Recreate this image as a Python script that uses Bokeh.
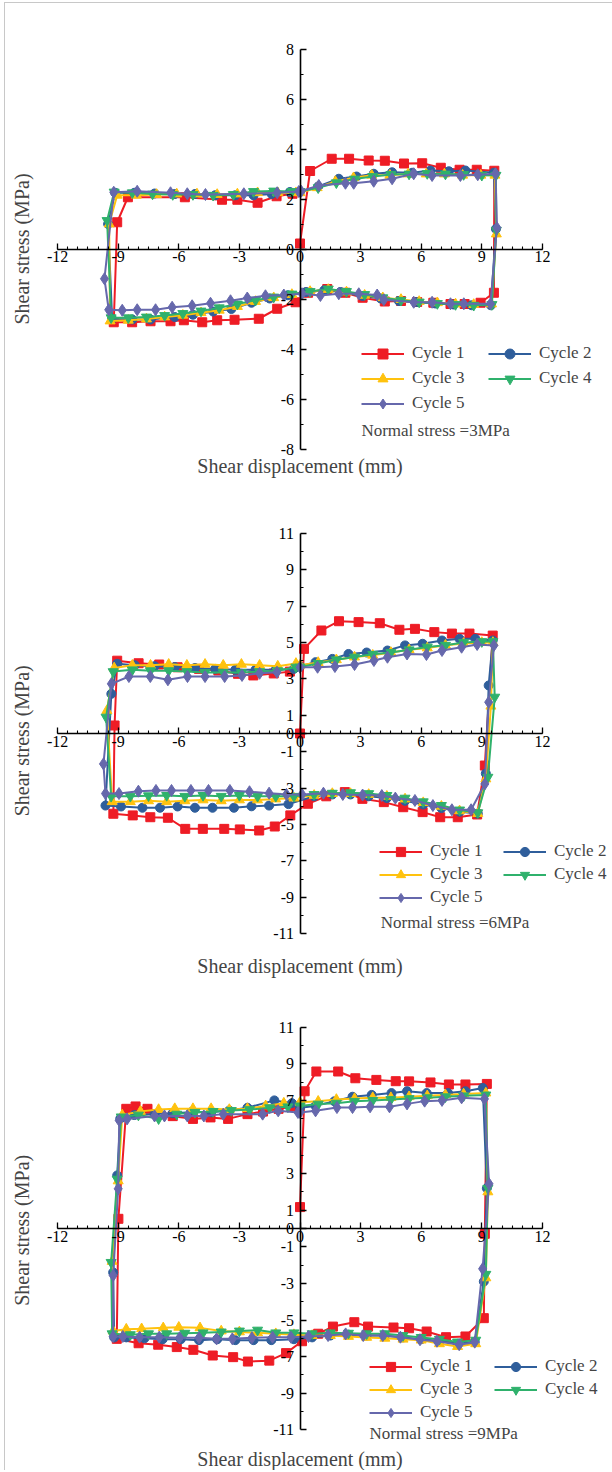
import math

from bokeh.embed import file_html
from bokeh.layouts import column
from bokeh.models import (CustomJSTickFormatter, FixedTicker, Label, Legend,
                          LegendItem, Range1d)
from bokeh.plotting import figure
from bokeh.resources import INLINE

# ---------------------------------------------------------------- data
# Shear displacement (mm) / shear stress (MPa), five loading cycles per test.

# Normal stress = 3 MPa
N3_C1_X = [0, 0.5, 1.57, 2.43, 3.4, 4.2, 5.15, 6.05, 6.97, 7.9, 8.75, 9.62,
           9.6, 8.94, 8.15, 7.45, 6.6, 5.8, 5.0, 4.2, 3.1, 2.25, 1.35, 0.4,
           -0.22, -1.13, -2.04, -3.24, -4.1, -4.84, -5.75, -6.41, -7.4, -8.31, -9.22,
           -9.05, -8.52, -5.7, -3.86, -3.1, -2.1, -1.16, -0.37]
N3_C1_Y = [0.22, 3.12, 3.61, 3.61, 3.54, 3.53, 3.42, 3.43, 3.25, 3.17, 3.17, 3.13,
           -1.75, -2.15, -2.2, -2.2, -2.15, -2.12, -2.08, -2.1, -1.95, -1.75, -1.6, -1.75,
           -2.13, -2.39, -2.79, -2.83, -2.85, -2.93, -2.85, -2.89, -2.89, -2.93, -2.93,
           1.07, 2.07, 2.07, 1.97, 1.97, 1.85, 2.11, 2.21]
N3_C2_X = [0, 0.9, 1.92, 2.8, 3.65, 4.56, 5.55, 6.46, 7.37, 8.19, 9.6,
           9.7, 9.45, 8.5, 7.6, 6.7, 5.8, 4.9, 4.0, 3.1, 2.0, 1.2, 0.3,
           -0.6, -1.5, -2.4, -3.4, -4.3, -5.3, -6.2, -7.4, -8.3, -9.3,
           -9.5, -9.15, -8.2, -7.2, -6.2, -5.2, -4.2, -3.2, -2.3, -1.4, -0.5]
N3_C2_Y = [2.3, 2.5, 2.81, 2.9, 3.01, 3.07, 3.05, 3.14, 3.11, 3.14, 3.05,
           0.8, -2.25, -2.25, -2.22, -2.18, -2.12, -2.08, -1.98, -1.88, -1.72, -1.65, -1.72,
           -1.85, -1.98, -2.15, -2.4, -2.5, -2.63, -2.72, -2.82, -2.82, -2.8,
           1.0, 2.25, 2.25, 2.22, 2.2, 2.2, 2.15, 2.15, 2.15, 2.2, 2.28]
N3_C3_X = [0, 0.85, 1.75, 2.65, 3.55, 4.45, 5.35, 6.25, 7.15, 8.05, 8.95, 9.65,
           9.72, 9.48, 8.6, 7.7, 6.8, 5.9, 5.0, 4.1, 3.2, 2.3, 1.4, 0.5,
           -0.4, -1.3, -2.2, -3.1, -4.0, -4.9, -5.8, -6.7, -7.6, -8.5, -9.4,
           -9.45, -9.05, -8.1, -7.1, -6.1, -5.1, -4.1, -3.1, -2.1, -1.1, -0.2]
N3_C3_Y = [2.25, 2.45, 2.7, 2.85, 2.95, 2.95, 3.0, 3.0, 3.0, 2.95, 2.95, 2.95,
           0.6, -2.2, -2.22, -2.2, -2.15, -2.1, -2.02, -1.95, -1.85, -1.72, -1.62, -1.7,
           -1.82, -1.95, -2.1, -2.3, -2.45, -2.55, -2.65, -2.72, -2.8, -2.85, -2.88,
           1.0, 2.15, 2.15, 2.18, 2.2, 2.2, 2.18, 2.2, 2.25, 2.25, 2.25]
N3_C4_X = [0, 0.9, 1.8, 2.7, 3.6, 4.5, 5.4, 6.3, 7.2, 8.1, 9.0, 9.7,
           9.72, 9.5, 8.6, 7.7, 6.8, 5.9, 5.0, 4.1, 3.2, 2.3, 1.4, 0.5,
           -0.4, -1.3, -2.2, -3.1, -4.0, -4.9, -5.8, -6.7, -7.6, -8.5, -9.35,
           -9.55, -9.2, -8.3, -7.3, -6.3, -5.3, -4.3, -3.3, -2.3, -1.3, -0.4]
N3_C4_Y = [2.3, 2.45, 2.65, 2.8, 2.9, 2.98, 3.0, 3.02, 3.0, 2.98, 2.95, 2.95,
           0.75, -2.22, -2.25, -2.22, -2.18, -2.12, -2.05, -1.95, -1.82, -1.7, -1.6, -1.7,
           -1.8, -1.92, -2.05, -2.2, -2.35, -2.48, -2.58, -2.66, -2.72, -2.75, -2.75,
           1.14, 2.28, 2.25, 2.2, 2.18, 2.18, 2.15, 2.18, 2.3, 2.32, 2.3]
N3_C5_X = [0.06, 0.93, 2.25, 2.66, 3.65, 4.56, 5.63, 6.54, 7.94, 8.8, 9.68,
           9.75, 9.43, 8.11, 7.45, 6.54, 5.63, 4.15, 3.82, 2.91, 1.92, 1.01, 0.1,
           -0.8, -1.71, -2.61, -3.44, -4.43, -5.34, -6.33, -7.15, -8.06, -8.8, -9.47,
           -9.68, -9.22, -8.06, -6.41, -5.58, -4.68, -2.78, -1.13, -0.06]
N3_C5_Y = [2.31, 2.54, 2.63, 2.63, 2.71, 2.81, 3.01, 2.94, 2.94, 2.97, 3.01,
           0.85, -2.19, -2.19, -2.19, -2.13, -2.13, -2.03, -1.84, -1.79, -1.79, -1.86, -1.79,
           -1.84, -1.87, -1.96, -2.07, -2.17, -2.27, -2.33, -2.43, -2.43, -2.45, -2.43,
           -1.19, 2.27, 2.31, 2.25, 2.21, 2.18, 2.21, 2.25, 2.3]

# Normal stress = 6 MPa
N6_C1_X = [0, 0.2, 1.06, 1.93, 2.9, 3.95, 4.92, 5.69, 6.65, 7.52, 8.39, 9.54,
           9.15, 8.77, 7.81, 6.94, 6.07, 5.11, 4.15, 3.09, 2.22, 1.3,
           0.39, -0.48, -1.25, -2.02, -2.98, -3.75, -4.81, -5.68, -6.54, -7.41, -8.28, -9.24,
           -9.18, -9.05, -7.99, -6.97, -6.06, -5.0, -4.04, -3.07, -2.31, -1.3, -0.5]
N6_C1_Y = [0, 4.65, 5.66, 6.17, 6.12, 6.06, 5.7, 5.75, 5.57, 5.49, 5.49, 5.38,
           -1.76, -4.45, -4.6, -4.6, -4.32, -4.05, -3.77, -3.59, -3.22, -3.45,
           -3.86, -4.5, -5.11, -5.33, -5.27, -5.24, -5.24, -5.24, -4.63, -4.6, -4.5, -4.41,
           0.44, 4.0, 3.86, 3.79, 3.64, 3.55, 3.46, 3.28, 3.19, 3.3, 3.4]
N6_C2_X = [0, 0.77, 1.6, 2.4, 3.3, 4.33, 5.2, 6.07, 7.03, 7.9, 8.68, 9.54,
           9.34, 9.2, 8.8, 7.9, 7.0, 6.1, 5.2, 4.3, 3.4, 2.5, 1.6, 0.7,
           -0.57, -1.53, -2.4, -3.27, -4.33, -5.2, -6.06, -6.93, -7.8, -8.86, -9.63,
           -9.34, -9.05, -8.18, -7.2, -6.2, -5.2, -4.2, -3.2, -2.2, -1.2, -0.3]
N6_C2_Y = [3.7, 3.92, 4.1, 4.37, 4.45, 4.56, 4.84, 4.93, 5.11, 5.2, 5.2, 5.11,
           2.64, -2.2, -4.4, -4.3, -4.1, -3.9, -3.7, -3.55, -3.45, -3.35, -3.35, -3.45,
           -3.88, -3.96, -4.0, -4.08, -4.08, -4.08, -4.01, -4.08, -4.08, -4.01, -3.96,
           2.18, 3.83, 3.75, 3.7, 3.65, 3.6, 3.55, 3.5, 3.5, 3.5, 3.55]
N6_C3_X = [0, 0.9, 1.8, 2.7, 3.6, 4.5, 5.4, 6.3, 7.2, 8.1, 9.0, 9.55,
           9.45, 9.2, 8.8, 7.9, 7.0, 6.1, 5.2, 4.3, 3.4, 2.5, 1.6, 0.7,
           -0.3, -1.2, -2.1, -3.0, -3.9, -4.8, -5.7, -6.6, -7.5, -8.4, -9.3,
           -9.56, -9.2, -8.3, -7.4, -6.5, -5.6, -4.7, -3.8, -2.9, -2.0, -1.1, -0.2]
N6_C3_Y = [3.75, 3.9, 4.05, 4.2, 4.3, 4.45, 4.6, 4.7, 4.85, 4.95, 5.0, 5.0,
           1.5, -2.5, -4.4, -4.25, -4.0, -3.8, -3.6, -3.45, -3.35, -3.3, -3.3, -3.4,
           -3.55, -3.6, -3.65, -3.65, -3.7, -3.65, -3.7, -3.75, -3.7, -3.75, -3.75,
           1.26, 3.6, 3.75, 3.75, 3.8, 3.75, 3.8, 3.75, 3.8, 3.75, 3.7, 3.85]
N6_C4_X = [0, 0.9, 1.8, 2.7, 3.6, 4.5, 5.4, 6.3, 7.2, 8.1, 9.0, 9.55,
           9.64, 9.3, 8.8, 7.9, 7.0, 6.1, 5.2, 4.3, 3.4, 2.5, 1.6, 0.7,
           -0.3, -1.2, -2.1, -3.0, -3.9, -4.8, -5.7, -6.6, -7.5, -8.4, -9.35,
           -9.6, -9.25, -8.3, -7.4, -6.5, -5.6, -4.7, -3.8, -2.9, -2.0, -1.1, -0.2]
N6_C4_Y = [3.65, 3.85, 4.05, 4.2, 4.35, 4.45, 4.6, 4.75, 4.85, 5.0, 5.05, 5.05,
           2.0, -2.4, -4.35, -4.2, -3.95, -3.75, -3.55, -3.4, -3.3, -3.25, -3.28, -3.35,
           -3.45, -3.45, -3.45, -3.4, -3.45, -3.4, -3.45, -3.4, -3.42, -3.45, -3.45,
           0.9, 3.4, 3.5, 3.45, 3.45, 3.4, 3.35, 3.35, 3.35, 3.4, 3.45, 3.65]
N6_C5_X = [0, 0.87, 1.73, 2.7, 3.66, 4.33, 5.3, 6.26, 7.03, 8.0, 8.77, 9.6,
           9.34, 9.15, 8.47, 7.52, 6.58, 5.69, 4.72, 4.05, 3.1, 2.12, 1.16, 0.1,
           -0.67, -1.53, -2.5, -3.47, -4.53, -5.4, -6.36, -7.13, -8.0, -8.96, -9.63,
           -9.73, -9.34, -8.47, -7.41, -6.54, -5.57, -4.7, -3.73, -2.87, -2.0, -1.14]
N6_C5_Y = [3.64, 3.64, 3.68, 3.79, 4.01, 4.19, 4.37, 4.34, 4.56, 4.74, 4.89, 4.84,
           1.72, -2.77, -4.19, -4.19, -3.96, -3.68, -3.55, -3.41, -3.38, -3.35, -3.28, -3.35,
           -3.35, -3.28, -3.2, -3.13, -3.13, -3.13, -3.13, -3.13, -3.17, -3.3, -3.3,
           -1.67, 2.73, 3.13, 3.13, 2.95, 3.13, 3.13, 3.13, 3.19, 3.31, 3.37]

# Normal stress = 9 MPa
N9_C1_X = [0, 0.23, 0.81, 1.89, 2.74, 3.78, 4.74, 5.4, 6.46, 7.37, 8.19, 9.25,
           9.15, 9.1, 8.19, 7.23, 6.27, 5.4, 4.63, 3.37, 2.69, 1.63, 0.9, 0.1,
           -0.69, -1.52, -2.58, -3.31, -4.32, -5.28, -6.1, -7.02, -7.99, -9.07,
           -8.99, -8.6, -8.14, -7.55, -6.3, -5.3, -4.43, -3.56, -2.6, -1.83, -1.06, -0.29]
N9_C1_Y = [1.17, 7.5, 8.58, 8.58, 8.21, 8.12, 8.05, 8.04, 7.98, 7.87, 7.87, 7.9,
           -0.29, -4.9, -5.9, -5.94, -5.63, -5.45, -5.41, -5.36, -5.12, -5.36, -5.75, -6.16,
           -6.81, -7.22, -7.27, -7.03, -6.94, -6.63, -6.48, -6.35, -6.27, -6.03,
           0.53, 6.54, 6.67, 6.54, 6.14, 5.99, 6.07, 5.99, 6.25, 6.39, 6.54, 6.67]
N9_C2_X = [0, 0.77, 1.7, 2.6, 3.55, 4.53, 5.3, 6.27, 7.33, 8.19, 9.05,
           9.25, 9.1, 8.65, 7.8, 6.9, 6.0, 5.1, 4.2, 3.3, 2.4, 1.5, 0.6,
           -0.3, -1.42, -2.3, -3.2, -4.1, -5.0, -5.9, -6.8, -7.7, -8.6, -9.2,
           -9.25, -9.05, -8.9, -8.2, -7.2, -6.3, -5.4, -4.4, -3.5, -2.6, -1.27, -0.4]
N9_C2_Y = [6.6, 6.7, 6.95, 7.2, 7.3, 7.4, 7.5, 7.4, 7.4, 7.5, 7.68,
           2.2, -2.9, -6.2, -6.3, -6.15, -6.05, -5.95, -5.85, -5.85, -5.8, -5.85, -5.95,
           -6.05, -6.1, -6.1, -6.1, -6.05, -6.1, -6.05, -6.05, -6.0, -5.95, -5.95,
           -2.4, 2.9, 6.0, 6.2, 6.25, 6.3, 6.35, 6.35, 6.45, 6.6, 7.0, 6.85]
N9_C3_X = [0, 0.9, 1.8, 2.7, 3.6, 4.5, 5.4, 6.3, 7.2, 8.1, 9.2,
           9.3, 9.2, 8.7, 7.8, 6.9, 6.0, 5.1, 4.2, 3.3, 2.4, 1.5, 0.6,
           -0.3, -1.2, -2.1, -3.0, -3.9, -4.95, -6.0, -6.77, -7.84, -8.6, -9.25,
           -9.3, -9.0, -8.8, -7.9, -7.0, -6.2, -5.3, -4.4, -3.5, -2.6, -1.7, -0.8]
N9_C3_Y = [6.9, 6.95, 7.05, 7.1, 7.15, 7.15, 7.2, 7.25, 7.3, 7.35, 7.4,
           2.0, -2.7, -6.3, -6.45, -6.3, -6.1, -6.05, -6.0, -5.95, -5.9, -5.85, -5.85,
           -5.8, -5.75, -5.7, -5.65, -5.6, -5.43, -5.4, -5.43, -5.48, -5.5, -5.6,
           -1.8, 2.6, 6.2, 6.4, 6.5, 6.55, 6.55, 6.55, 6.5, 6.55, 6.7, 6.85]
N9_C4_X = [0, 0.9, 1.8, 2.7, 3.6, 4.5, 5.4, 6.3, 7.2, 8.1, 9.2,
           9.3, 9.2, 8.7, 7.8, 6.9, 6.0, 5.1, 4.2, 3.3, 2.4, 1.5, 0.6,
           -0.3, -1.2, -2.1, -3.0, -3.9, -4.8, -5.7, -6.6, -7.5, -8.4, -9.3,
           -9.35, -9.05, -8.85, -8.0, -7.0, -6.1, -5.2, -4.3, -3.4, -2.5, -1.5, -0.6]
N9_C4_Y = [6.7, 6.8, 6.85, 6.95, 7.0, 7.05, 7.1, 7.15, 7.2, 7.25, 7.3,
           2.2, -2.5, -6.1, -6.2, -6.05, -5.95, -5.85, -5.75, -5.75, -5.72, -5.7, -5.75,
           -5.7, -5.7, -5.55, -5.6, -5.65, -5.7, -5.72, -5.75, -5.75, -5.8, -5.75,
           -1.85, 2.7, 6.1, 6.2, 6.0, 6.25, 6.35, 6.4, 6.45, 6.5, 6.6, 6.65]
N9_C5_X = [0, 0.77, 1.83, 2.6, 3.47, 4.43, 5.3, 6.17, 7.03, 8.0, 9.13,
           9.36, 9.04, 8.65, 7.88, 6.78, 5.94, 4.97, 4.1, 3.13, 2.26, 1.39, 0.42,
           -0.45, -1.36, -2.38, -3.35, -4.13, -5.0, -5.96, -6.97, -7.94, -8.77, -9.25,
           -9.25, -9.0, -8.95, -8.56, -7.2, -6.71, -5.58, -4.76, -3.8, -1.85, -1.08, -0.1]
N9_C5_Y = [6.34, 6.43, 6.61, 6.61, 6.65, 6.65, 6.81, 6.96, 7.0, 7.14, 7.08,
           2.44, -2.2, -6.21, -6.35, -6.16, -6.08, -5.94, -5.85, -5.85, -5.76, -5.85, -5.9,
           -5.94, -5.94, -5.97, -6.03, -6.03, -5.97, -5.97, -5.94, -5.94, -5.9, -5.9,
           -2.57, 2.17, 5.9, 5.99, 6.15, 6.15, 6.15, 6.15, 6.25, 6.25, 6.43, 6.34]

CYCLE_LABELS = ["Cycle 1", "Cycle 2", "Cycle 3", "Cycle 4", "Cycle 5"]
X_TICKS = [-12, -9, -6, -3, 0, 3, 6, 9, 12]
Y_TICKS_3 = [-8, -6, -4, -2, 0, 2, 4, 6, 8]
Y_TICKS_6 = [-11, -9, -7, -5, -3, -1, 0, 1, 3, 5, 7, 9, 11]
Y_TICKS_9 = [-11, -9, -7, -5, -3, -1, 0, 1, 3, 5, 7, 9, 11]
NOTES = ["Normal stress =3MPa", "Normal stress =6MPa", "Normal stress =9MPa"]

# ---------------------------------------------------------------- style
FONT = "Liberation Serif"
COLORS = ["#EE1C25", "#2F5E9B", "#FFC20E", "#2FB16C", "#6668AC"]
MARKERS = ["square", "circle", "triangle", "inverted_triangle", "diamond"]
SIZES = [9, 9, 10, 10, 12]
PAGE_W = 607
KX = 20.2          # px per mm
OX = 294.5         # px position of x = 0 inside each figure
PLAIN = CustomJSTickFormatter(code="return String(tick)")


def make_panel(series, note, height, oy, ky, ybound, yticks, yminor,
               legend_xy, row_h, label_w, note_xy, xtitle_y, ytitle_y):
    x_range = Range1d(-OX / KX, (PAGE_W - OX) / KX)
    y_range = Range1d(-(height - oy) / ky, oy / ky)
    p = figure(width=PAGE_W, height=height, x_range=x_range, y_range=y_range,
               output_backend="svg", toolbar_location=None, min_border=0,
               x_axis_location="below", y_axis_location="left")
    p.outline_line_color = None
    p.grid.visible = False
    p.background_fill_color = "white"
    p.border_fill_color = "white"

    xa = p.xaxis[0]
    xa.fixed_location = 0
    xa.bounds = (X_TICKS[0], X_TICKS[-1])
    xa.ticker = FixedTicker(ticks=X_TICKS,
                            minor_ticks=[v / 2 for v in range(-24, 25)])
    ya = p.yaxis[0]
    ya.fixed_location = 0
    ya.bounds = ybound
    ya.ticker = FixedTicker(ticks=yticks, minor_ticks=yminor)
    for ax in (xa, ya):
        ax.formatter = PLAIN
        ax.axis_line_width = 1.6
        ax.axis_line_color = "black"
        ax.major_tick_in = 6
        ax.major_tick_out = 0
        ax.minor_tick_in = 3
        ax.minor_tick_out = 0
        ax.major_tick_line_width = 1.3
        ax.minor_tick_line_width = 1.1
        ax.major_label_text_font = FONT
        ax.major_label_text_font_size = "16px"
        ax.major_label_text_color = "black"
    xa.major_label_standoff = 2
    ya.major_label_standoff = 6

    items = []
    for i, (xs, ys) in enumerate(series):
        ln = p.line(xs, ys, line_color=COLORS[i], line_width=2)
        sc = p.scatter(xs, ys, marker=MARKERS[i], size=SIZES[i],
                       fill_color=COLORS[i], line_color=COLORS[i])
        items.append(LegendItem(label=CYCLE_LABELS[i], renderers=[ln, sc]))

    legend = Legend(items=items, location=legend_xy, orientation="horizontal",
                    ncols=2, glyph_width=43, glyph_height=row_h,
                    label_height=row_h, label_width=label_w, label_standoff=8,
                    spacing=0, padding=0, margin=0,
                    border_line_alpha=0, background_fill_alpha=0,
                    label_text_font=FONT, label_text_font_size="17px")
    p.add_layout(legend)

    p.add_layout(Label(x=note_xy[0], y=note_xy[1], text=note,
                       text_font=FONT, text_font_size="17px",
                       text_align="left", text_baseline="middle"))
    p.add_layout(Label(x=0, y=xtitle_y, text="Shear displacement (mm)",
                       text_font=FONT, text_font_size="20px",
                       text_align="center", text_baseline="middle"))
    p.add_layout(Label(x=-13.74, y=ytitle_y, text="Shear stress (MPa)",
                       angle=math.pi / 2, text_font=FONT, text_font_size="20px",
                       text_align="center", text_baseline="middle"))
    return p


p1 = make_panel(
    [(N3_C1_X, N3_C1_Y), (N3_C2_X, N3_C2_Y), (N3_C3_X, N3_C3_Y),
     (N3_C4_X, N3_C4_Y), (N3_C5_X, N3_C5_Y)], NOTES[0],
    height=487, oy=245.5, ky=25.0, ybound=(-8, 8), yticks=Y_TICKS_3,
    yminor=[-7, -5, -3, -1, 1, 3, 5, 7],
    legend_xy=(356, 74.5), row_h=25, label_w=76, note_xy=(3.04, -7.26),
    xtitle_y=-8.66, ytitle_y=0.0)

p2 = make_panel(
    [(N6_C1_X, N6_C1_Y), (N6_C2_X, N6_C2_Y), (N6_C3_X, N6_C3_Y),
     (N6_C4_X, N6_C4_Y), (N6_C5_X, N6_C5_Y)], NOTES[1],
    height=495, oy=243.0, ky=18.2, ybound=(-11, 11), yticks=Y_TICKS_6,
    yminor=[-10, -8, -6, -4, -2, 2, 4, 6, 8, 10],
    legend_xy=(374, 76.5), row_h=23, label_w=73, note_xy=(4.0, -10.38),
    xtitle_y=-12.75, ytitle_y=-0.4)

p3 = make_panel(
    [(N9_C1_X, N9_C1_Y), (N9_C2_X, N9_C2_Y), (N9_C3_X, N9_C3_Y),
     (N9_C4_X, N9_C4_Y), (N9_C5_X, N9_C5_Y)], NOTES[2],
    height=485, oy=243.0, ky=18.3, ybound=(-11, 11), yticks=Y_TICKS_9,
    yminor=[-10, -8, -6, -4, -2, 2, 4, 6, 8, 10],
    legend_xy=(364, 46.5), row_h=23, label_w=74, note_xy=(3.44, -11.2),
    xtitle_y=-12.57, ytitle_y=-0.1)

page = column(p1, p2, p3, spacing=0,
              styles={"border-left": "1px solid #c8c8c8",
                      "border-top": "1px solid #c8c8c8",
                      "margin-left": "4px", "margin-top": "2px"})

open("out.html", "w").write(file_html(page, INLINE))
